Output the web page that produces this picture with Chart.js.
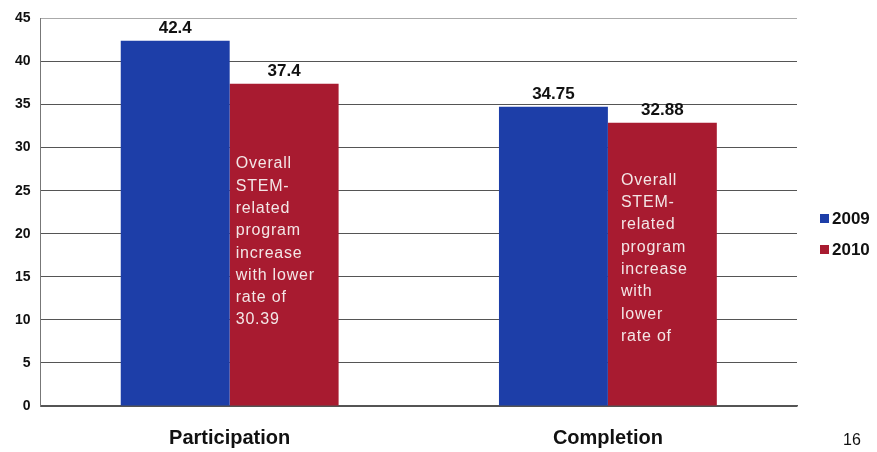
<!DOCTYPE html>
<html>
<head>
<meta charset="utf-8">
<script src="https://cdn.jsdelivr.net/npm/chart.js@4.4.1/dist/chart.umd.min.js"></script>
<style>
  body { margin: 0; background: #fff; }
  canvas { display: block; }
</style>
</head>
<body>
<canvas id="grafico" width="877" height="452"></canvas>
<script>
// datos
const categorias = ['Participation', 'Completion'];
const anios = ['2009', '2010'];
const valores2009 = [42.4, 34.75];
const valores2010 = [37.4, 32.88];
const etiquetas2009 = ['42.4', '34.75'];
const etiquetas2010 = ['37.4', '32.88'];
const notaParticipation = ['Overall', 'STEM-', 'related', 'program', 'increase', 'with lower', 'rate of', '30.39'];
const notaCompletion = ['Overall', 'STEM-', 'related', 'program', 'increase', 'with', 'lower', 'rate of'];
const notas = [notaParticipation, notaCompletion];
const inicioNota = [28.1, 26.2];   // valor del eje donde empieza cada nota
const numeroPagina = '16';

const azul = '#1d3ea8';
const rojo = '#a81b30';
const fuente = '"Liberation Sans", Arial, sans-serif';

// etiquetas de valor, notas, leyenda y numero de pagina
const extras = {
    id: 'extras',
    afterDatasetsDraw(chart) {
        const ctx = chart.ctx;
        const y = chart.scales.y;
        const etiquetas = [etiquetas2009, etiquetas2010];
        ctx.save();
        ctx.fillStyle = '#111';
        ctx.font = 'bold 17px ' + fuente;
        ctx.textAlign = 'center';
        ctx.textBaseline = 'bottom';
        chart.data.datasets.forEach((ds, d) => {
            chart.getDatasetMeta(d).data.forEach((bar, i) => {
                ctx.fillText(etiquetas[d][i], bar.x, bar.y - 4);
            });
        });

        // texto dentro de las barras rojas
        ctx.fillStyle = '#f3e6e6';
        ctx.font = '16px ' + fuente;
        ctx.letterSpacing = '0.8px';
        ctx.textAlign = 'left';
        ctx.textBaseline = 'middle';
        const desplaz = [6, 13];
        chart.getDatasetMeta(1).data.forEach((bar, i) => {
            const x0 = bar.x - bar.width / 2 + desplaz[i];
            const y0 = y.getPixelForValue(inicioNota[i]);
            notas[i].forEach((linea, k) => {
                ctx.fillText(linea, x0, y0 + k * 22.3);
            });
        });
        ctx.letterSpacing = '0px';

        // leyenda
        const area = chart.chartArea;
        const colores = [azul, rojo];
        ctx.font = 'bold 17px ' + fuente;
        ctx.textBaseline = 'middle';
        anios.forEach((a, k) => {
            const ly = 219 + k * 31;
            ctx.fillStyle = colores[k];
            ctx.fillRect(area.right + 23, ly - 5, 9, 9);
            ctx.fillStyle = '#111';
            ctx.fillText(a, area.right + 35, ly);
        });

        // numero de pagina
        ctx.font = '16px ' + fuente;
        ctx.textAlign = 'center';
        ctx.fillText(numeroPagina, 852, 441);
        ctx.restore();
    }
};

const config = {
    type: 'bar',
    data: {
        labels: categorias,
        datasets: [
            { label: anios[0], data: valores2009, backgroundColor: azul },
            { label: anios[1], data: valores2010, backgroundColor: rojo }
        ]
    },
    options: {
        responsive: false,
        animation: false,
        layout: { padding: { top: 14, left: 5, right: 80, bottom: -18 } },
        datasets: {
            bar: { categoryPercentage: 0.576, barPercentage: 1.0 }
        },
        plugins: {
            legend: { display: false },
            tooltip: { enabled: false }
        },
        scales: {
            x: {
                grid: { display: false, drawTicks: false },
                border: { display: true, color: '#555', width: 1.5 },
                ticks: {
                    color: '#111',
                    padding: 20,
                    font: { family: fuente, size: 20, weight: 'bold' }
                }
            },
            y: {
                min: 0,
                max: 45,
                ticks: {
                    stepSize: 5,
                    color: '#111',
                    padding: 10,
                    font: { family: fuente, size: 14, weight: 'bold' }
                },
                grid: {
                    drawTicks: false,
                    color: ctx => ctx.tick && ctx.tick.value === 45 ? '#aaa' : '#555'
                },
                border: { display: true, color: '#777' }
            }
        }
    },
    plugins: [extras]
};

new Chart(document.getElementById('grafico'), config);
</script>
</body>
</html>
